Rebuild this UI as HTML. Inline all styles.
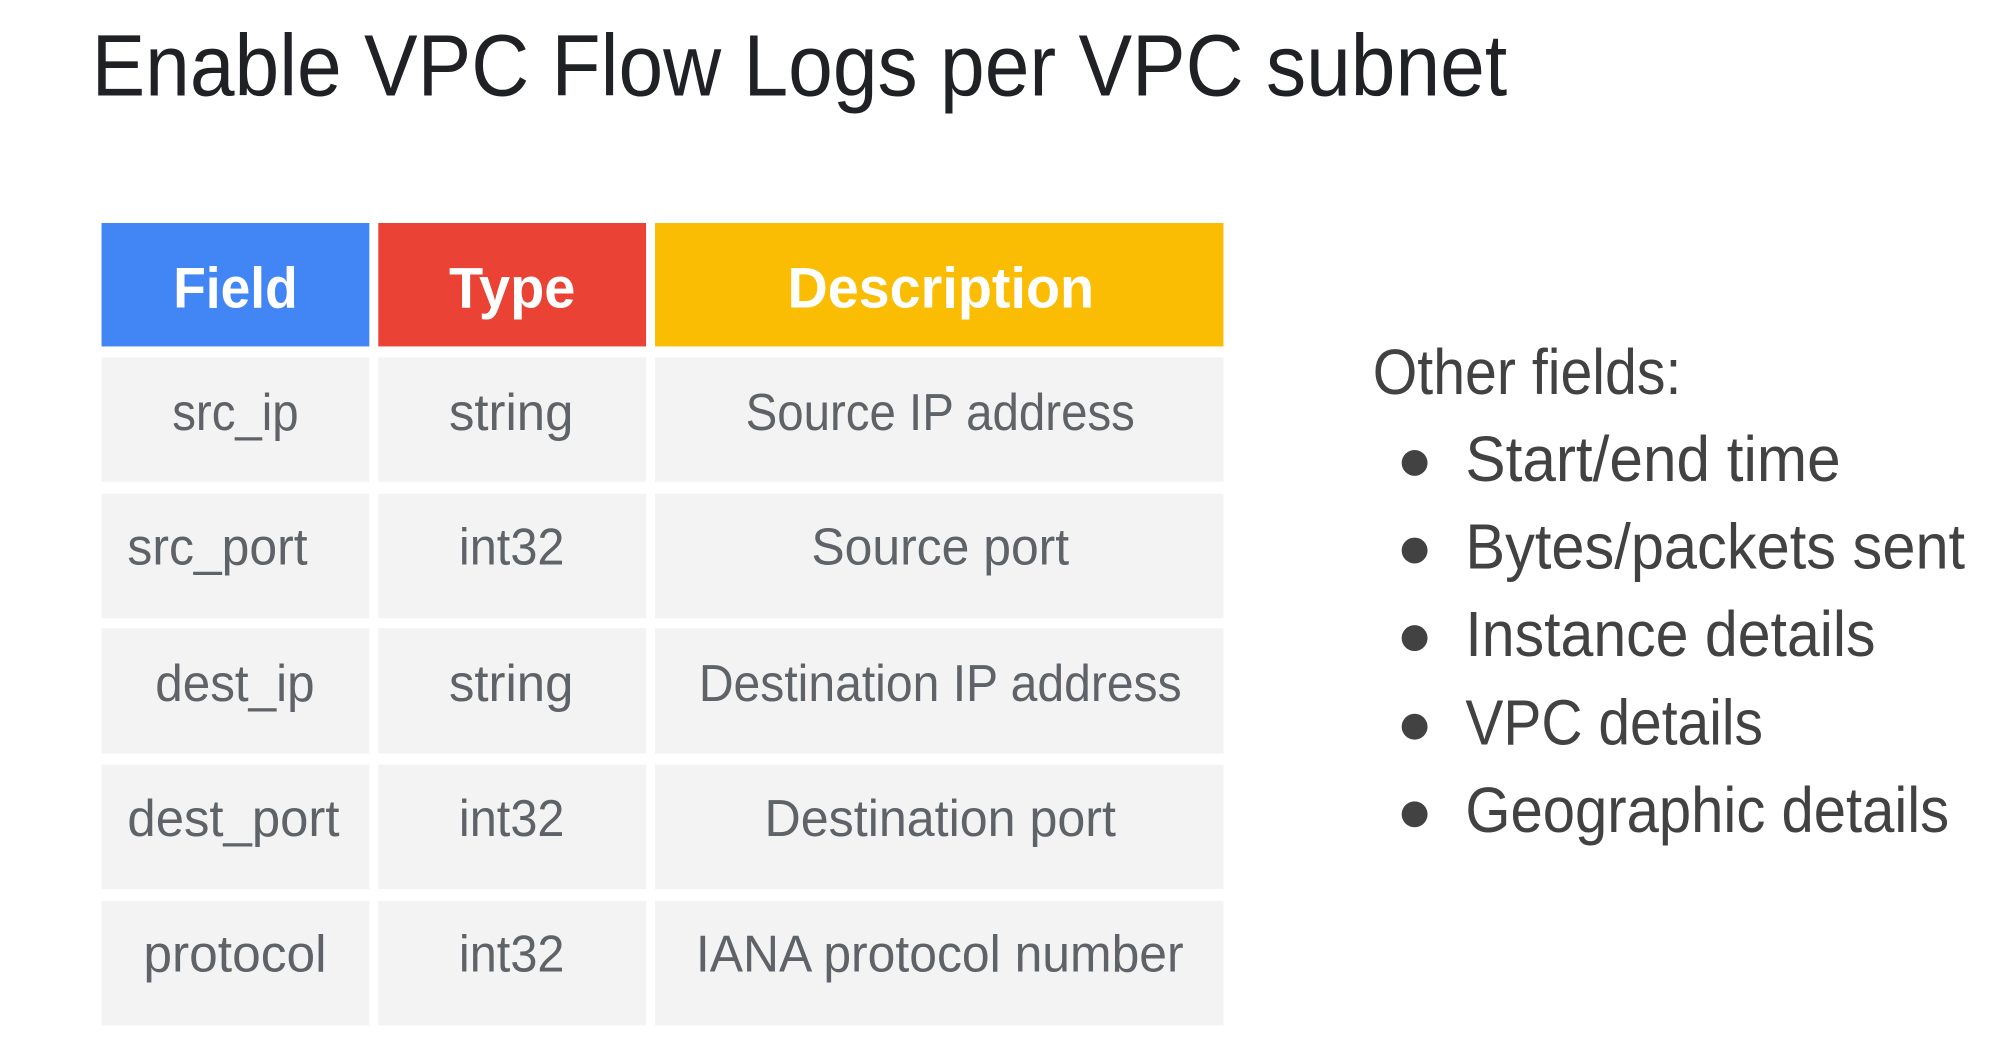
<!DOCTYPE html>
<html><head><meta charset="utf-8"><style>html,body{margin:0;padding:0;background:#fff;}svg{display:block}</style></head>
<body>
<svg width="1994" height="1042" viewBox="0 0 1994 1042" xmlns="http://www.w3.org/2000/svg" font-family="Liberation Sans, sans-serif">
<g transform="scale(0.9955)">
<text x="92" y="96" font-size="88" fill="#202124" textLength="1422" lengthAdjust="spacingAndGlyphs">Enable VPC Flow Logs per VPC subnet</text>
<g>
<rect x="102" y="224" width="269" height="124" fill="#4285f4"/>
<rect x="380" y="224" width="269" height="124" fill="#ea4335"/>
<rect x="658" y="224" width="571" height="124" fill="#fbbc04"/>
</g>
<g font-weight="bold" font-size="58" fill="#fff">
<text x="174" y="309" textLength="125" lengthAdjust="spacingAndGlyphs">Field</text>
<text x="451" y="309" textLength="127" lengthAdjust="spacingAndGlyphs">Type</text>
<text x="791" y="309" textLength="308" lengthAdjust="spacingAndGlyphs">Description</text>
</g>
<g fill="#f3f3f3">
<rect x="102" y="359" width="269" height="125"/><rect x="380" y="359" width="269" height="125"/><rect x="658" y="359" width="571" height="125"/>
<rect x="102" y="496" width="269" height="125"/><rect x="380" y="496" width="269" height="125"/><rect x="658" y="496" width="571" height="125"/>
<rect x="102" y="631" width="269" height="126"/><rect x="380" y="631" width="269" height="126"/><rect x="658" y="631" width="571" height="126"/>
<rect x="102" y="768" width="269" height="125"/><rect x="380" y="768" width="269" height="125"/><rect x="658" y="768" width="571" height="125"/>
<rect x="102" y="905" width="269" height="125"/><rect x="380" y="905" width="269" height="125"/><rect x="658" y="905" width="571" height="125"/>
</g>
<g font-size="52" fill="#5f6368">
<text x="173" y="432" textLength="127" lengthAdjust="spacingAndGlyphs">src_ip</text>
<text x="451" y="432" textLength="125" lengthAdjust="spacingAndGlyphs">string</text>
<text x="749" y="432" textLength="391" lengthAdjust="spacingAndGlyphs">Source IP address</text>
<text x="128" y="567" textLength="181" lengthAdjust="spacingAndGlyphs">src_port</text>
<text x="461" y="567" textLength="106" lengthAdjust="spacingAndGlyphs">int32</text>
<text x="815" y="567" textLength="259" lengthAdjust="spacingAndGlyphs">Source port</text>
<text x="156" y="704" textLength="160" lengthAdjust="spacingAndGlyphs">dest_ip</text>
<text x="451" y="704" textLength="125" lengthAdjust="spacingAndGlyphs">string</text>
<text x="702" y="704" textLength="485" lengthAdjust="spacingAndGlyphs">Destination IP address</text>
<text x="128" y="840" textLength="213" lengthAdjust="spacingAndGlyphs">dest_port</text>
<text x="461" y="840" textLength="106" lengthAdjust="spacingAndGlyphs">int32</text>
<text x="768" y="840" textLength="353" lengthAdjust="spacingAndGlyphs">Destination port</text>
<text x="144" y="976" textLength="184" lengthAdjust="spacingAndGlyphs">protocol</text>
<text x="461" y="976" textLength="106" lengthAdjust="spacingAndGlyphs">int32</text>
<text x="699" y="976" textLength="490" lengthAdjust="spacingAndGlyphs">IANA protocol number</text>
</g>
<g font-size="64" fill="#424242" transform="translate(-4,0)">
<text x="1383" y="396" textLength="310" lengthAdjust="spacingAndGlyphs">Other fields:</text>
<circle cx="1425" cy="465" r="13"/><text x="1476" y="483" textLength="377" lengthAdjust="spacingAndGlyphs">Start/end time</text>
<circle cx="1425" cy="553" r="13"/><text x="1476" y="571" textLength="502" lengthAdjust="spacingAndGlyphs">Bytes/packets sent</text>
<circle cx="1425" cy="641" r="13"/><text x="1476" y="659" textLength="412" lengthAdjust="spacingAndGlyphs">Instance details</text>
<circle cx="1425" cy="730" r="13"/><text x="1476" y="748" textLength="299" lengthAdjust="spacingAndGlyphs">VPC details</text>
<circle cx="1425" cy="818" r="13"/><text x="1476" y="836" textLength="486" lengthAdjust="spacingAndGlyphs">Geographic details</text>
</g>
</g>
</svg>
</body></html>
